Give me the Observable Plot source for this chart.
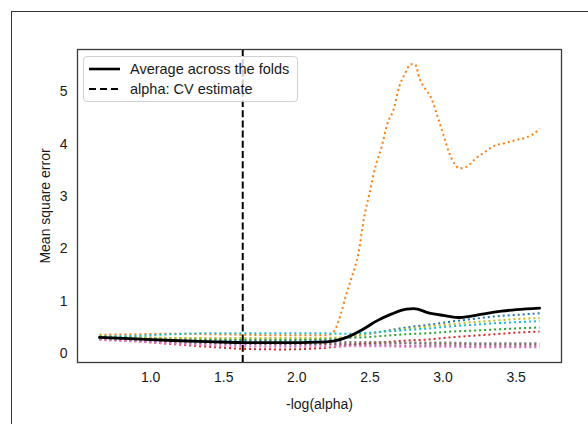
<!DOCTYPE html>
<html>
<head>
<meta charset="utf-8">
<script src="https://cdn.jsdelivr.net/npm/d3@7"></script>
<script src="https://cdn.jsdelivr.net/npm/@observablehq/plot@0.6"></script>
<style>
  html, body { margin: 0; padding: 0; background: #fff; overflow: hidden; }
  #wrap { position: relative; width: 588px; height: 424px; overflow: hidden; font-family: "Liberation Sans", Arial, sans-serif; }
  #outer { position: absolute; left: 11px; top: 11px; width: 640px; height: 480px; border: 1.3px solid #333; box-sizing: border-box; pointer-events: none; }
  #chart { position: absolute; left: 0; top: 0; }
  #legend { position: absolute; left: 83px; top: 56px; width: 215px; height: 46px; box-sizing: border-box;
    border: 1px solid #d0d0d0; border-radius: 4px; background: rgba(255,255,255,0.8); font-size: 14.5px; color: #1a1a1a; }
  .item { position: absolute; left: 4px; height: 18px; display: flex; align-items: center; }
  .item svg { margin-right: 9px; }
</style>
</head>
<body>
<div id="wrap">
  <div id="chart"></div>
  <div id="legend">
    <div class="item" style="top:3px"><svg width="33" height="6"><line x1="1" y1="3" x2="32" y2="3" stroke="#000" stroke-width="2.6"/></svg><span>Average across the folds</span></div>
    <div class="item" style="top:23px"><svg width="33" height="6"><line x1="1" y1="3" x2="32" y2="3" stroke="#000" stroke-width="2" stroke-dasharray="7,4"/></svg><span>alpha: CV estimate</span></div>
  </div>
  <div id="outer"></div>
</div>
<script>
// x positions (-log(alpha)) for the regular folds
const xFolds = [0.65, 0.9, 1.15, 1.4, 1.65, 1.9, 2.15, 2.3, 2.45, 2.6, 2.75, 2.9, 3.05, 3.2, 3.35, 3.5, 3.66];
const foldBlue   = [0.31, 0.29, 0.27, 0.26, 0.25, 0.25, 0.26, 0.29, 0.36, 0.43, 0.50, 0.55, 0.61, 0.66, 0.71, 0.74, 0.77];
const foldGreen  = [0.33, 0.31, 0.29, 0.28, 0.27, 0.27, 0.28, 0.30, 0.31, 0.34, 0.37, 0.39, 0.42, 0.44, 0.46, 0.48, 0.50];
const foldRed    = [0.30, 0.24, 0.18, 0.13, 0.09, 0.08, 0.10, 0.14, 0.19, 0.22, 0.25, 0.27, 0.31, 0.34, 0.37, 0.40, 0.42];
const foldPurple = [0.27, 0.24, 0.21, 0.19, 0.18, 0.17, 0.17, 0.17, 0.16, 0.16, 0.15, 0.15, 0.15, 0.14, 0.14, 0.14, 0.14];
const foldBrown  = [0.29, 0.26, 0.23, 0.21, 0.20, 0.19, 0.19, 0.19, 0.19, 0.20, 0.20, 0.19, 0.19, 0.18, 0.18, 0.18, 0.18];
const foldPink   = [0.26, 0.23, 0.19, 0.16, 0.14, 0.13, 0.13, 0.14, 0.14, 0.14, 0.13, 0.13, 0.13, 0.12, 0.12, 0.12, 0.12];
const foldGray   = [0.30, 0.27, 0.24, 0.22, 0.21, 0.21, 0.21, 0.22, 0.22, 0.22, 0.21, 0.21, 0.21, 0.20, 0.20, 0.20, 0.20];
const foldOlive  = [0.33, 0.31, 0.30, 0.30, 0.30, 0.30, 0.30, 0.31, 0.36, 0.42, 0.47, 0.52, 0.56, 0.60, 0.63, 0.66, 0.68];
const foldCyan   = [0.32, 0.34, 0.37, 0.39, 0.39, 0.39, 0.39, 0.38, 0.39, 0.42, 0.45, 0.48, 0.52, 0.55, 0.58, 0.60, 0.62];

// the orange fold (with the large spike) is read on a finer grid
const xOrange = [0.65, 0.9, 1.15, 1.4, 1.65, 1.9, 2.15, 2.22, 2.26, 2.3, 2.34, 2.38, 2.42, 2.46, 2.5, 2.54, 2.58, 2.62, 2.66, 2.7, 2.74, 2.78, 2.81, 2.84, 2.88, 2.92, 2.96, 3.0, 3.04, 3.08, 3.11, 3.16, 3.22, 3.28, 3.35, 3.42, 3.5, 3.57, 3.62, 3.66];
const foldOrange = [0.36, 0.37, 0.38, 0.37, 0.36, 0.35, 0.35, 0.36, 0.45, 0.75, 1.15, 1.5, 1.9, 2.6, 3.1, 3.6, 3.95, 4.4, 4.65, 5.1, 5.35, 5.53, 5.52, 5.25, 5.05, 4.88, 4.55, 4.2, 3.85, 3.62, 3.54, 3.57, 3.72, 3.84, 3.97, 4.02, 4.08, 4.13, 4.2, 4.3];

// average across the folds
const xMean = [0.65, 0.9, 1.15, 1.4, 1.65, 1.9, 2.15, 2.25, 2.35, 2.45, 2.55, 2.65, 2.75, 2.8, 2.9, 3.0, 3.1, 3.2, 3.3, 3.4, 3.5, 3.66];
const yMean = [0.31, 0.28, 0.25, 0.23, 0.21, 0.21, 0.22, 0.24, 0.32, 0.46, 0.63, 0.76, 0.85, 0.86, 0.78, 0.73, 0.69, 0.72, 0.77, 0.81, 0.84, 0.87];

// CV estimate of -log(alpha)
const alphaCV = 1.63;

const xTicks = [1.0, 1.5, 2.0, 2.5, 3.0, 3.5];
const yTicks = [0, 1, 2, 3, 4, 5];

const folds = [
  {xs: xFolds, ys: foldBlue, color: "#1f77b4"},
  {xs: xOrange, ys: foldOrange, color: "#ff7f0e"},
  {xs: xFolds, ys: foldGreen, color: "#2ca02c"},
  {xs: xFolds, ys: foldRed, color: "#d62728"},
  {xs: xFolds, ys: foldPurple, color: "#9467bd"},
  {xs: xFolds, ys: foldBrown, color: "#8c564b"},
  {xs: xFolds, ys: foldPink, color: "#e377c2"},
  {xs: xFolds, ys: foldGray, color: "#7f7f7f"},
  {xs: xFolds, ys: foldOlive, color: "#bcbd22"},
  {xs: xFolds, ys: foldCyan, color: "#17becf"}
];

const toPts = (xs, ys) => xs.map((x, i) => ({x, y: ys[i]}));

const marks = [];
for (const f of folds) {
  marks.push(Plot.line(toPts(f.xs, f.ys), {x: "x", y: "y", stroke: f.color, strokeWidth: 2, strokeDasharray: "2,3", strokeLinecap: "butt", curve: "monotone-x"}));
}
marks.push(Plot.line(toPts(xMean, yMean), {x: "x", y: "y", stroke: "#000", strokeWidth: 2.8, curve: "monotone-x"}));
marks.push(Plot.ruleX([alphaCV], {stroke: "#000", strokeWidth: 2, strokeDasharray: "7,3.2", strokeLinecap: "butt"}));
marks.push(Plot.frame({stroke: "#3a3a3a", strokeWidth: 1.3}));

const chart = Plot.plot({
  width: 588,
  height: 424,
  marginLeft: 77,
  marginRight: 27,
  marginTop: 49,
  marginBottom: 62,
  style: {fontFamily: "'Liberation Sans', Arial, sans-serif", fontSize: "14px", color: "#1a1a1a", background: "transparent"},
  x: {domain: [0.5, 3.81], ticks: xTicks, tickFormat: ".1f", tickSize: 0, tickPadding: 10,
      label: "-log(alpha)", labelAnchor: "center", labelArrow: "none", labelOffset: 46},
  y: {domain: [-0.17, 5.81], ticks: yTicks, tickFormat: "d", tickSize: 0, tickPadding: 10,
      label: "Mean square error", labelAnchor: "center", labelArrow: "none", labelOffset: 37},
  marks
});
document.getElementById("chart").appendChild(chart);
</script>
</body>
</html>
